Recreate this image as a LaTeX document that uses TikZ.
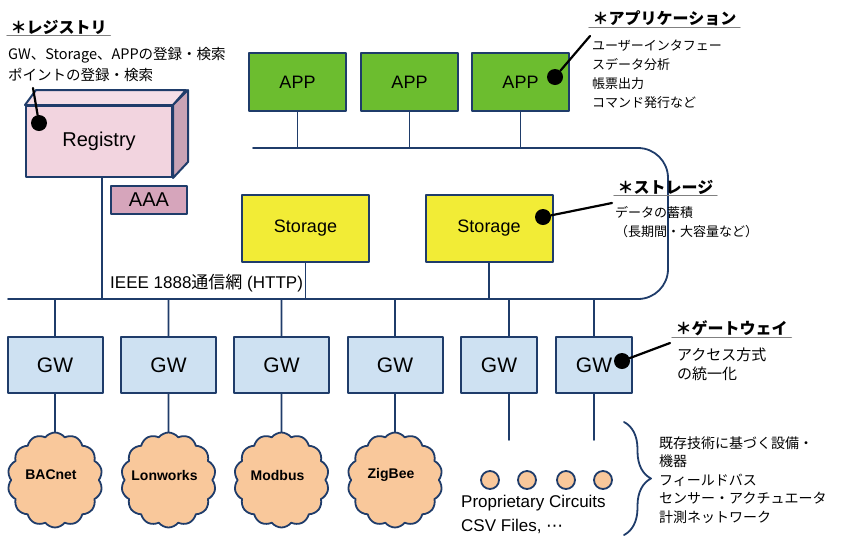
\documentclass[tikz,border=0pt]{standalone}
\usepackage{fontspec}
\setmainfont{Liberation Sans}
\newfontfamily\cjk{Noto Sans CJK JP}
\newfontfamily\symf{DejaVu Sans}
\usetikzlibrary{shapes.symbols,decorations.pathreplacing}
\definecolor{navy}{HTML}{1F3C6A}
\definecolor{appgreen}{HTML}{6CBD2F}
\definecolor{stoyellow}{HTML}{F2EC36}
\definecolor{gwblue}{HTML}{CEE1F2}
\definecolor{peach}{HTML}{F9C89B}
\definecolor{regfront}{HTML}{F2D4DF}
\definecolor{regtop}{HTML}{F5DEE7}
\definecolor{regside}{HTML}{C9A3B5}
\definecolor{aaa}{HTML}{D6A5BB}
\begin{document}
\begin{tikzpicture}[x=1pt, y=-1pt, line join=round, line cap=round,
	bus/.style={draw=navy, line width=1.8pt},
	box/.style={draw=navy, line width=2pt, inner sep=0pt, font=\fontsize{18}{18}\selectfont},
	appbox/.style={box, fill=appgreen, minimum width=97pt, minimum height=58pt},
	stobox/.style={box, fill=stoyellow, minimum width=127pt, minimum height=67pt},
	gwbox/.style={box, fill=gwblue, minimum width=#1, minimum height=56pt, font=\fontsize{21}{21}\selectfont},
	gwbox/.default=95pt,
	net/.style={cloud, cloud puffs=14, cloud puff arc=105, aspect=1, minimum width=95pt, minimum height=95pt, draw=navy, line width=1.8pt, fill=peach, inner sep=0pt},
	netname/.style={inner sep=0pt, font=\bfseries\fontsize{14}{14}\selectfont},
	dev/.style={circle, draw=navy, line width=1.8pt, fill=peach, minimum size=18pt, inner sep=0pt},
	ttl/.style={font=\cjk\bfseries\fontsize{16}{16}\selectfont, anchor=west, inner sep=1.5pt},
	uline/.style={draw=gray, line width=1.2pt},
	jtxt/.style={font=\cjk\fontsize{#1}{#1}\selectfont, anchor=west, inner sep=0pt},
	jtxt/.default=14,
	ptdot/.style={circle, fill=black, inner sep=0pt, minimum size=16pt},
	ptr/.style={line width=2.2pt}]
	\useasboundingbox (0,0) rectangle (850,547);
	% bus lines
	\path (8,299) coordinate (busB) (668,299) coordinate (busBR) (668,148) coordinate (busTR) (253,148) coordinate (busT);
	\draw[bus, rounded corners=30pt] (busB) -- (busBR) -- (busTR) -- (busT);
	% registry
	\node[box, fill=regfront, minimum width=146pt, minimum height=71pt, font=\fontsize{20}{20}\selectfont] (reg) at (99,141.5) {Registry};
	\draw[box, fill=regtop] (reg.north west) -- ++(11,-15) -- ++(150,0) -- (reg.north east) -- cycle;
	\draw[box, fill=regside] (reg.north east) -- ++(15,-15) -- ++(0,72) -- (reg.south east) -- cycle;
	\draw[bus] ([xshift=3pt]reg.south) -- ([xshift=3pt]reg.south |- busB);
	\node[box, fill=aaa, minimum width=76pt, minimum height=28pt, font=\fontsize{20}{20}\selectfont] (aaa) at (149,200) {AAA};
	% applications and storage
	\foreach \i/\x in {1/297.5,2/409.5,3/520.5}{
		\node[appbox] (app\i) at (\x,82) {APP};
		\draw[bus] (app\i.south) -- (app\i.south |- busT);
	}
	\foreach \i/\x in {1/305.5,2/489}{
		\node[stobox] (sto\i) at (\x,228.5) {Storage};
		\draw[bus] (sto\i.south) -- (sto\i.south |- busB);
	}
	\node[anchor=west, inner sep=0pt, font=\fontsize{17}{17}\selectfont] (ieee) at (110,283) {IEEE 1888{\cjk 通信網} (HTTP)};
	% gateways
	\foreach \i/\x/\n in {1/55/BACnet,2/168.5/Lonworks,3/281.5/Modbus,4/395/ZigBee}{
		\node[gwbox] (gw\i) at (\x,365) {GW};
		\node[net] (net\i) at (\x,480) {};
		\node[netname] (netN\i) at ([xshift=-4pt, yshift=5pt]net\i.center) {\n};
		\draw[bus] (gw\i.north) -- (gw\i.north |- busB) (gw\i.south) -- (net\i.north);
	}
	\node[gwbox=76pt] (gw5) at (499,365) {GW};
	\node[gwbox=76pt] (gw6) at (594,365) {GW};
	\path (509,440) coordinate (end5) (594,440) coordinate (end6);
	\draw[bus] (end5 |- busB) -- (end5 |- gw5.north) (end5 |- gw5.south) -- (end5) (gw6.north |- busB) -- (gw6.north) (gw6.south) -- (end6);
	\foreach \i/\x in {1/490,2/527,3/566,4/603} \node[dev] (dev\i) at (\x,480) {};
	\foreach \t [count=\i] in {Proprietary Circuits, {CSV Files, {\symf ⋯}}} \node[anchor=west, inner sep=0pt, font=\fontsize{17}{17}\selectfont] (prop\i) at (461,480+23*\i) {\t};
	\path (624,422) coordinate (brA) (624,535) coordinate (brB);
	\draw[bus, decorate, decoration={brace, amplitude=27pt}] (brA) -- (brB);
	% titles and notes
	\node[ttl] (regT) at (9,27) {＊レジストリ};
	\node[ttl] (appT) at (591,18) {＊アプリケーション};
	\node[ttl] (stoT) at (616,187) {＊ストレージ};
	\node[ttl] (gwT) at (674,328) {＊ゲートウェイ};
	\foreach \t in {regT,appT,stoT,gwT} \draw[uline] ([xshift=-2pt]\t.south west) -- ([xshift=2pt]\t.south east);
	\foreach \t [count=\i] in {GW、Storage、APPの登録・検索, ポイントの登録・検索} \node[jtxt=14.5] (regD\i) at (8,35+20*\i) {\t};
	\foreach \t [count=\i] in {ユーザーインタフェー, スデータ分析, 帳票出力, コマンド発行など} \node[jtxt=13] (appD\i) at (592,27+19*\i) {\t};
	\foreach \t [count=\i] in {データの蓄積, （長期間・大容量など）} \node[jtxt=13] (stoD\i) at (615,194+19*\i) {\t};
	\foreach \t [count=\i] in {アクセス方式, の統一化} \node[jtxt=15] (gwD\i) at (677,336+19*\i) {\t};
	\foreach \t [count=\i] in {既存技術に基づく設備・, 機器, フィールドバス, センサー・アクチュエータ, 計測ネットワーク} \node[jtxt] (exist\i) at (659,424.5+18.5*\i) {\t};
	% pointers
	\foreach \n/\p/\q in {reg/{39,123}/{33,88}, app/{555,77}/{590,36}, sto/{543,217}/{612,203}, gw/{622,361}/{670,343}}{
		\node[ptdot] (\n P) at (\p) {};
		\coordinate (\n Q) at (\q);
		\draw[ptr] (\n Q) -- (\n P);
	}
\end{tikzpicture}
\end{document}
